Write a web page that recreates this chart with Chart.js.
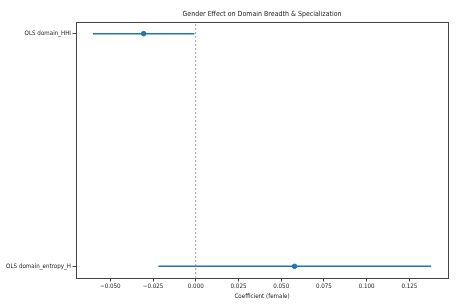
<!DOCTYPE html>
<html><head><meta charset="utf-8">
<script src="https://cdn.jsdelivr.net/npm/chart.js@4.4.1/dist/chart.umd.min.js"></script>
<style>html,body{margin:0;padding:0;background:#fff}#wrap{width:468px;height:308px}</style>
</head><body><div id="wrap"><canvas id="c" width="468" height="308"></canvas></div>
<script>
const titleText = 'Gender Effect on Domain Breadth & Specialization';
const xTitle = 'Coefficient (female)';
const categories = ['OLS domain_entropy_H', 'OLS domain_HHI'];
const coef = [0.0578, -0.0305];
const ciLow = [-0.0219, -0.0602];
const ciHigh = [0.1377, -0.0008];
const xTicks = [-0.05, -0.025, 0, 0.025, 0.05, 0.075, 0.1, 0.125];

const FONT = "'DejaVu Sans Condensed', 'DejaVu Sans', sans-serif";
const BLUE = '#1f77b4';
const lo = Math.min(...ciLow), hi = Math.max(...ciHigh);
const xMin = lo - 0.05 * (hi - lo), xMax = hi + 0.05 * (hi - lo);

const datasets = [];
datasets.push({type:'line', data:[{x:0,y:-0.05},{x:0,y:1.05}], borderColor:'#888', borderWidth:0.8, borderDash:[2,2], pointRadius:0, order:3});
categories.forEach((c,i)=>{
  datasets.push({type:'line', data:[{x:ciLow[i],y:i},{x:ciHigh[i],y:i}], borderColor:BLUE, borderWidth:1.5, pointRadius:0, order:2});
});
datasets.push({type:'scatter', data:categories.map((c,i)=>({x:coef[i],y:i})), backgroundColor:BLUE, borderColor:BLUE, pointRadius:2.3, order:1});

const frame = {id:'frame', afterDatasetsDraw(ch){const a=ch.chartArea,ctx=ch.ctx;ctx.save();ctx.strokeStyle='#444';ctx.lineWidth=1;ctx.strokeRect(Math.round(a.left)+0.5,Math.round(a.top)+0.5,Math.round(a.right-a.left),Math.round(a.bottom-a.top));
  ctx.fillStyle='#222';ctx.font='7px '+FONT;ctx.textAlign='center';ctx.textBaseline='middle';ctx.fillText(titleText,(a.left+a.right)/2,14);ctx.restore();}};

new Chart(document.getElementById('c'), {
  data:{datasets},
  options:{
    responsive:false, animation:false, devicePixelRatio:1,
    layout:{padding:{top:22,right:20,left:0,bottom:8}},
    plugins:{legend:{display:false}, tooltip:{enabled:false}},
    scales:{
      x:{type:'linear', min:xMin, max:xMax,
        afterBuildTicks(s){s.ticks = xTicks.map(v=>({value:v}));},
        afterFit(s){s.height=22;},
        ticks:{font:{family:FONT,size:6.2}, color:'#222', padding:1, maxRotation:0,
          callback:v=>v.toFixed(3).replace('-','\u2212')},
        grid:{drawOnChartArea:false, tickLength:3.5, color:'#444'},
        border:{display:false},
        title:{display:true, text:xTitle, font:{family:FONT,size:6.2}, color:'#222', padding:{top:1,bottom:0}}
      },
      y:{type:'linear', min:-0.05, max:1.05,
        afterBuildTicks(s){s.ticks = categories.map((c,i)=>({value:i}));},
        afterFit(s){s.width=76;},
        ticks:{font:{family:FONT,size:6.2}, color:'#222', padding:1.5, callback:v=>categories[v]},
        grid:{drawOnChartArea:false, tickLength:3.5, color:'#444'},
        border:{display:false}
      }
    }
  },
  plugins:[frame]
});
</script></body></html>
